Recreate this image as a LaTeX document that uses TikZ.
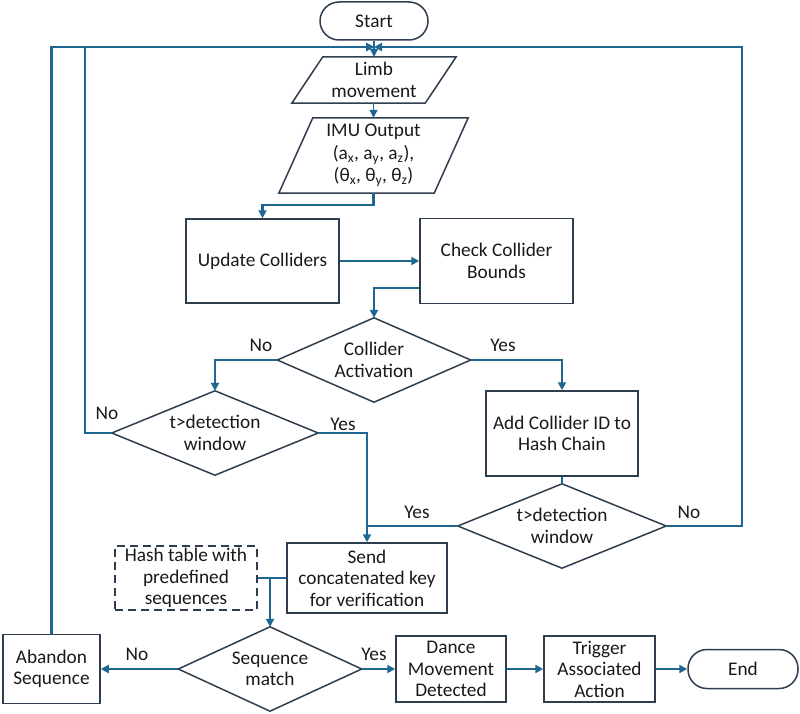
\documentclass[tikz,border=0pt]{standalone}
\usepackage{fontspec}
\setmainfont{Carlito}
\usetikzlibrary{arrows.meta}
\definecolor{conncol}{HTML}{1F6690}
\definecolor{bord}{HTML}{2F3E4E}
\tikzset{
 base/.style={inner sep=0pt, align=center, font=\fontsize{19.3}{21.5}\selectfont, text=black!90},
 proc/.style={base, draw=bord, line width=1.5pt, rectangle},
 ghost/.style={base, rectangle},
 term/.style={base, draw=bord, line width=1.5pt, rounded corners=19pt},
 dashbox/.style={base, draw=bord, line width=1.5pt, dash pattern=on 8pt off 5pt},
 conn/.style={draw=conncol, line width=2.5pt},
 thinconn/.style={draw=conncol, line width=1.4pt},
 arr/.style={-{Triangle[length=8pt,width=8pt]}},
 lbl/.style={inner sep=0pt, font=\fontsize{19.3}{21.5}\selectfont, text=black!90},
 outline/.style={draw=bord, line width=1.5pt, line join=miter}
}
\begin{document}
\begin{tikzpicture}[x=1pt,y=-1pt]
\useasboundingbox (0,0) rectangle (800,714);
% nodes
\node[term, minimum width=108pt, minimum height=38pt] (start) at (374,21) {Start};
\node[ghost, minimum width=133pt, minimum height=46pt] (limb) at (374,80) {Limb\\movement};
\draw[outline] ([xshift=15.5pt]limb.north west) -- ([xshift=15.5pt]limb.north east) -- ([xshift=-15.5pt]limb.south east) -- ([xshift=-15.5pt]limb.south west) -- cycle;
\node[ghost, minimum width=155pt, minimum height=75pt, font=\fontsize{19.3}{22.5}\selectfont] (imu) at (373.5,155.5) {IMU Output\\(a\textsubscript{x}, a\textsubscript{y}, a\textsubscript{z}),\\(θ\textsubscript{x}, θ\textsubscript{y}, θ\textsubscript{z})};
\draw[outline] ([xshift=17pt]imu.north west) -- ([xshift=17pt]imu.north east) -- ([xshift=-17pt]imu.south east) -- ([xshift=-17pt]imu.south west) -- cycle;
\node[proc, minimum width=153pt, minimum height=84pt] (upd) at (262.5,261) {Update Colliders};
\node[proc, minimum width=153pt, minimum height=85pt] (chk) at (496.5,261) {Check Collider\\Bounds};
\node[ghost, minimum width=193pt, minimum height=84pt] (ca) at (374,360) {Collider\\Activation};
\draw[outline] (ca.north) -- (ca.east) -- (ca.south) -- (ca.west) -- cycle;
\node[ghost, minimum width=206pt, minimum height=84pt] (tdw1) at (215,433) {t>detection\\window};
\draw[outline] (tdw1.north) -- (tdw1.east) -- (tdw1.south) -- (tdw1.west) -- cycle;
\node[proc, minimum width=152pt, minimum height=85pt] (add) at (562,433.5) {Add Collider ID to\\Hash Chain};
\node[ghost, minimum width=208pt, minimum height=84pt] (tdw2) at (562,526) {t>detection\\window};
\draw[outline] (tdw2.north) -- (tdw2.east) -- (tdw2.south) -- (tdw2.west) -- cycle;
\node[dashbox, minimum width=142pt, minimum height=64pt] (hash) at (186,578) {Hash table with\\predefined\\sequences};
\node[proc, minimum width=160pt, minimum height=70pt] (send) at (367,578) {Send\\concatenated key\\for verification};
\node[ghost, minimum width=183pt, minimum height=84pt] (seq) at (270,669) {Sequence\\match};
\draw[outline] (seq.north) -- (seq.east) -- (seq.south) -- (seq.west) -- cycle;
\node[proc, minimum width=97pt, minimum height=69pt] (aband) at (51.5,669) {Abandon\\Sequence};
\node[proc, minimum width=110pt, minimum height=66pt] (dance) at (451,669) {Dance\\Movement\\Detected};
\node[proc, minimum width=111pt, minimum height=66pt] (trig) at (599.5,669) {Trigger\\Associated\\Action};
\node[term, minimum width=110pt, minimum height=39pt] (endn) at (743,669) {End};
% junction coordinates
\coordinate (j) at (374,47);
\coordinate (rr) at (742,47);
\coordinate (lt) at (85,47);
\coordinate (ll) at (51.5,47);
% connectors
\draw[conn,arr] (tdw2.east) -| (rr) -- (j);
\draw[conn,arr] (tdw1.west) -| (lt) -- (j);
\draw[conn,arr] (aband.north) -- (ll) -- (j);
\draw[thinconn,arr] (start.south) -- (limb.north);
\draw[thinconn,arr] ([xshift=-0.5pt]limb.south) -- ([xshift=-0.5pt]limb.south |- imu.north);
\draw[conn,arr] (imu.south) -- ++(0,12) -| (upd.north);
\draw[conn,arr] (upd.east) -- (chk.west);
\draw[conn,arr] ([yshift=-27pt]chk.west) -| (ca.north);
\draw[conn,arr] (ca.west) -| (tdw1.north);
\draw[conn,arr] (ca.east) -| (add.north);
\draw[conn] (add.south) -- (tdw2.north);
\draw[conn,arr] (tdw1.east) -| (send.north);
\draw[conn] (tdw2.west) -- (send.north |- tdw2.west);
\draw[conn] (hash.east) -- (send.west);
\draw[conn,arr] (seq.north |- hash.east) -- (seq.north);
\draw[conn,arr] (seq.west) -- (aband.east);
\draw[conn,arr] (seq.east) -- (dance.west);
\draw[conn,arr] (dance.east) -- (trig.west);
\draw[conn,arr] (trig.east) -- (endn.west);
% labels
\node[lbl] (l1) at (261,345) {No};
\node[lbl] (l2) at (503,345) {Yes};
\node[lbl] (l3) at (107,413) {No};
\node[lbl] (l4) at (343,424) {Yes};
\node[lbl] (l5) at (417,512) {Yes};
\node[lbl] (l6) at (689,512) {No};
\node[lbl] (l7) at (137,654) {No};
\node[lbl] (l8) at (374,654) {Yes};
\end{tikzpicture}
\end{document}
